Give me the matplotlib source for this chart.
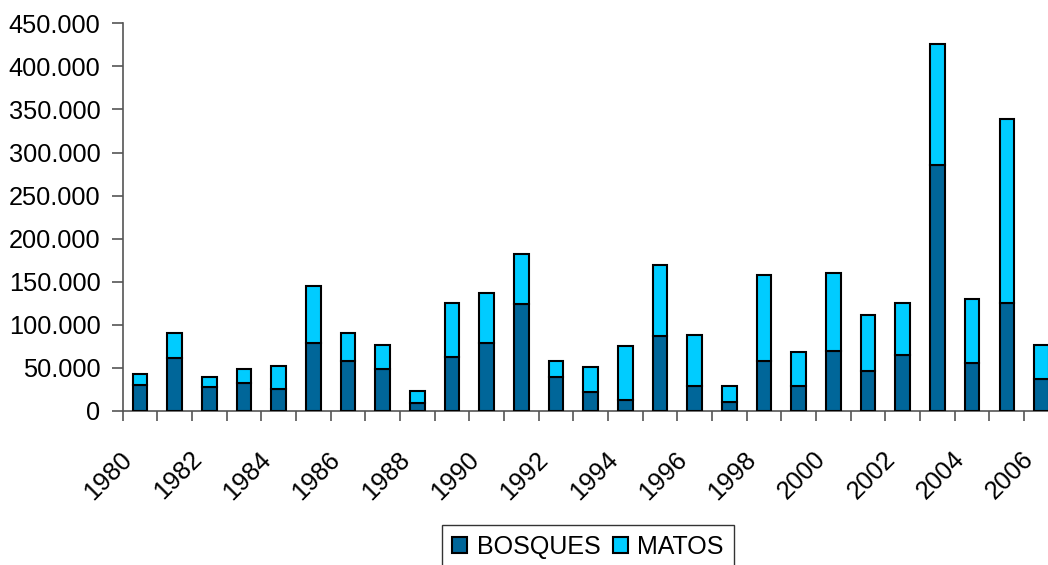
import matplotlib
matplotlib.use("Agg")
import matplotlib.pyplot as plt
from matplotlib.ticker import FuncFormatter
from matplotlib.transforms import ScaledTranslation

years = list(range(1980, 2007))
bosques = [30, 62, 28, 32, 25, 78.5, 58, 48.5, 9, 62.5, 78.5, 124.5, 39, 22.5,
           13, 87.5, 29.5, 11, 57.5, 29.5, 69.5, 46.5, 65, 285.5, 55.5, 125, 37]
matos = [13.5, 28, 11, 16.5, 27.5, 67, 32, 28, 14, 62.5, 58, 58, 18.5, 28.5,
         63, 81.5, 58.5, 18.5, 100, 39.5, 90.5, 65, 60, 141, 74, 214, 39.5]
yticks = list(range(0, 450001, 50000))

bosques = [v * 1000 for v in bosques]
matos = [v * 1000 for v in matos]

plt.rcParams['font.family'] = ['Liberation Sans', 'DejaVu Sans']

fig = plt.figure(figsize=(10.48, 5.65), dpi=100)
ax = fig.add_axes([0.117, 0.2726, 1.0103 - 0.117, 0.9588 - 0.2726])

x = list(range(len(years)))
ax.bar(x, bosques, width=0.42, color='#006699', edgecolor='black',
       linewidth=1.5, label='BOSQUES', zorder=3)
ax.bar(x, matos, width=0.42, bottom=bosques, color='#00CCFF',
       edgecolor='black', linewidth=1.5, label='MATOS', zorder=3)

ax.set_xlim(-0.5, len(years) - 0.5)
ax.set_ylim(0, 450000)

for side in ['top', 'right']:
    ax.spines[side].set_visible(False)
for side in ['left', 'bottom']:
    ax.spines[side].set_color('#555555')
    ax.spines[side].set_linewidth(1.2)

ax.set_yticks(yticks)
ax.yaxis.set_major_formatter(
    FuncFormatter(lambda v, p: f"{int(v):,}".replace(',', '.')))
ax.tick_params(axis='y', length=8, width=1.2, color='#555555',
               labelsize=18.3, pad=8)

# tick marks between categories, labels every second year
ax.set_xticks([i - 0.5 for i in range(len(years) + 1)])
ax.set_xticklabels([])
ax.tick_params(axis='x', which='major', length=7, width=1.2, color='#555555')
ax.set_xticks([i for i in x if years[i] % 2 == 0], minor=True)
labels = ax.set_xticklabels([str(y) for y in years if y % 2 == 0], minor=True,
                            rotation=45, ha='right', rotation_mode='anchor',
                            fontsize=18.3)
ax.tick_params(axis='x', which='minor', length=0, pad=26)
shift = ScaledTranslation(-20 / 100, 0, fig.dpi_scale_trans)
for lab in labels:
    lab.set_transform(lab.get_transform() + shift)

leg = fig.legend(loc='upper center', bbox_to_anchor=(588 / 1048, 1 - 525 / 565),
                 ncol=2, fontsize=18, frameon=True, fancybox=False,
                 edgecolor='black', handlelength=0.6, handleheight=0.6,
                 handletextpad=0.37, columnspacing=0.5, borderpad=0.4,
                 borderaxespad=0)
leg.get_frame().set_linewidth(1.0)

fig.savefig('out.png', dpi=100)
